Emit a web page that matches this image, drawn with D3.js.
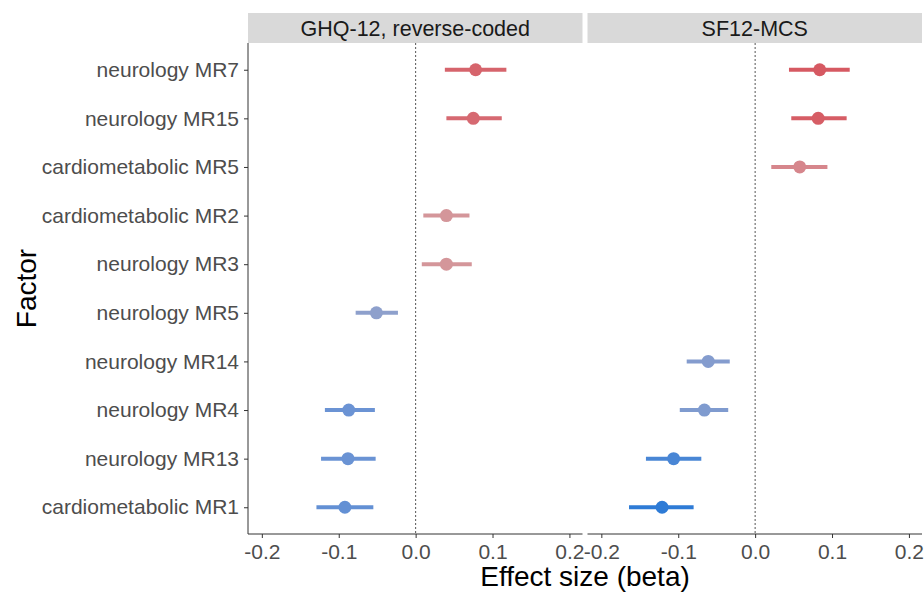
<!DOCTYPE html>
<html>
<head>
<meta charset="utf-8">
<script src="https://cdn.jsdelivr.net/npm/d3@7"></script>
<style>
body { margin: 0; background: #fff; }
text { font-family: "Liberation Sans", Arial, sans-serif; }
</style>
</head>
<body>
<div id="chart"></div>
<script>
var factors = ["neurology MR7", "neurology MR15", "cardiometabolic MR5", "cardiometabolic MR2",
    "neurology MR3", "neurology MR5", "neurology MR14", "neurology MR4", "neurology MR13", "cardiometabolic MR1"];
var panels = ["GHQ-12, reverse-coded", "SF12-MCS"];
var xTicks = [-0.2, -0.1, 0.0, 0.1, 0.2];

// GHQ-12 panel (null = not shown)
var ghqBeta = [0.078, 0.075, null, 0.040, 0.040, -0.051, null, -0.087, -0.088, -0.092];
var ghqLow  = [0.038, 0.040, null, 0.010, 0.008, -0.078, null, -0.118, -0.123, -0.129];
var ghqHigh = [0.118, 0.112, null, 0.070, 0.073, -0.023, null, -0.053, -0.052, -0.055];

// SF12-MCS panel
var mcsBeta = [0.084, 0.082, 0.058, null, null, null, -0.061, -0.066, -0.106, -0.121];
var mcsLow  = [0.044, 0.047, 0.021, null, null, null, -0.089, -0.098, -0.142, -0.164];
var mcsHigh = [0.123, 0.119, 0.094, null, null, null, -0.033, -0.035, -0.070, -0.080];

var margin = { top: 13, left: 248, bottom: 58, right: 2 };
var W = 924, H = 592;
var stripH = 30;
var gap = 5;
var panelW = (W - margin.left - margin.right - gap) / 2;
var plotTop = margin.top + stripH;
var plotBottom = H - margin.bottom;

var svg = d3.select("#chart").append("svg")
    .attr("width", W)
    .attr("height", H);

var y = d3.scalePoint()
    .domain(factors)
    .range([plotTop, plotBottom])
    .padding(0.55);

var color = d3.scaleLinear()
    .domain([-0.121, -0.088, -0.05, 0.04, 0.06, 0.078])
    .range(["#2e7bd6", "#6a93d4", "#8fa0cc", "#d4969a", "#d6848a", "#d6646c"]);

var series = [
    { beta: ghqBeta, low: ghqLow, high: ghqHigh },
    { beta: mcsBeta, low: mcsLow, high: mcsHigh }
];

panels.forEach(function (name, p) {
    var x0 = margin.left + p * (panelW + gap);
    var x = d3.scaleLinear()
        .domain([-0.218, 0.217])
        .range([x0, x0 + panelW]);

    // strip
    svg.append("rect")
        .attr("x", x0).attr("y", margin.top)
        .attr("width", panelW).attr("height", stripH)
        .attr("fill", "#d9d9d9");
    svg.append("text")
        .attr("x", x0 + panelW / 2).attr("y", margin.top + stripH / 2 + 7.5)
        .attr("text-anchor", "middle")
        .attr("font-size", 21.5).attr("fill", "#1a1a1a")
        .text(name);

    // zero line
    svg.append("line")
        .attr("x1", x(0)).attr("x2", x(0))
        .attr("y1", plotTop).attr("y2", plotBottom)
        .attr("stroke", "#555").attr("stroke-width", 1)
        .attr("stroke-dasharray", "2,2");

    // x axis
    var xAxis = d3.axisBottom(x)
        .tickValues(xTicks)
        .tickSize(4)
        .tickFormat(d3.format(".1f"));
    var gx = svg.append("g")
        .attr("transform", "translate(0," + plotBottom + ")")
        .call(xAxis);
    gx.select(".domain").attr("stroke", "#333").attr("d", "M" + x0 + ",0H" + (x0 + panelW));
    gx.selectAll(".tick line").attr("stroke", "#333");
    gx.selectAll(".tick text")
        .attr("font-size", 21).attr("fill", "#4d4d4d")
        .attr("font-family", "Liberation Sans, Arial, sans-serif")
        .attr("dy", "0.85em")
        .text(function (d) { return d3.format(".1f")(d).replace("−", "-"); });

    var s = series[p];
    var rows = factors.map(function (f, i) {
        return { f: f, beta: s.beta[i], low: s.low[i], high: s.high[i] };
    }).filter(function (d) { return d.beta !== null; });

    svg.append("g").selectAll("line")
        .data(rows).enter().append("line")
        .attr("x1", function (d) { return x(d.low); })
        .attr("x2", function (d) { return x(d.high); })
        .attr("y1", function (d) { return y(d.f); })
        .attr("y2", function (d) { return y(d.f); })
        .attr("stroke", function (d) { return color(d.beta); })
        .attr("stroke-width", 4);

    svg.append("g").selectAll("circle")
        .data(rows).enter().append("circle")
        .attr("cx", function (d) { return x(d.beta); })
        .attr("cy", function (d) { return y(d.f); })
        .attr("r", 6.5)
        .attr("fill", function (d) { return color(d.beta); });
});

// y axis
var yAxis = d3.axisLeft(y).tickSize(4).tickPadding(5);
var gy = svg.append("g")
    .attr("transform", "translate(" + margin.left + ",0)")
    .call(yAxis);
gy.select(".domain").attr("stroke", "#333").attr("d", "M0," + plotTop + "V" + plotBottom);
gy.selectAll(".tick line").attr("stroke", "#333");
gy.selectAll(".tick text")
    .attr("font-size", 21).attr("fill", "#4d4d4d")
    .attr("font-family", "Liberation Sans, Arial, sans-serif");

// axis titles
svg.append("text")
    .attr("x", margin.left + (W - margin.left - margin.right) / 2)
    .attr("y", H - 6)
    .attr("text-anchor", "middle")
    .attr("font-size", 28).attr("fill", "#000")
    .text("Effect size (beta)");

svg.append("text")
    .attr("transform", "translate(36," + ((plotTop + plotBottom) / 2) + ") rotate(-90)")
    .attr("text-anchor", "middle")
    .attr("font-size", 28).attr("fill", "#000")
    .text("Factor");
</script>
</body>
</html>
